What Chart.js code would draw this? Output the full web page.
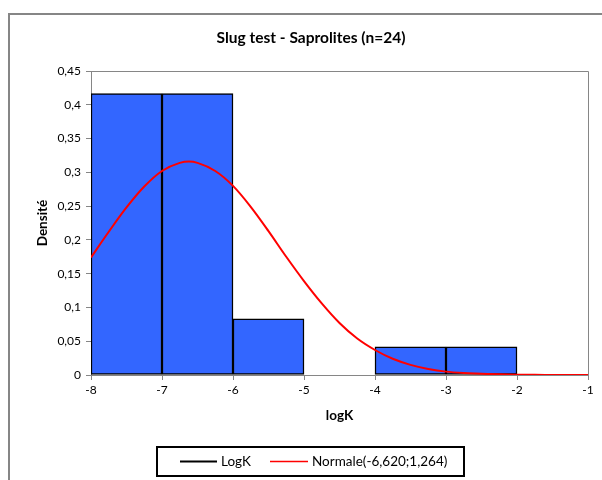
<!DOCTYPE html>
<html>
<head>
<meta charset="utf-8">
<script src="https://cdn.jsdelivr.net/npm/chart.js@4.4.0/dist/chart.umd.min.js"></script>
<style>
  html, body { margin: 0; padding: 0; background: #fff; }
  #wrap { width: 602px; height: 480px; position: relative; }
</style>
</head>
<body>
<div id="wrap"><canvas id="mycanvas"></canvas></div>
<script>
// histogram classes (centres) and densities
var binCenters = [-7.5, -6.5, -5.5, -4.5, -3.5, -2.5];
var density = [0.4167, 0.4167, 0.0833, 0, 0.0417, 0.0417];

// normal curve
var curveX = [-8, -7.75, -7.5, -7.25, -7, -6.75, -6.62, -6.5, -6.25, -6, -5.75, -5.5, -5.25, -5,
              -4.75, -4.5, -4.25, -4, -3.75, -3.5, -3.25, -3, -2.75, -2.5, -2.25, -2,
              -1.75, -1.5, -1.25, -1];
var curveY = [0.174, 0.212, 0.248, 0.279, 0.302, 0.314, 0.316, 0.314, 0.302, 0.280, 0.249, 0.213, 0.175, 0.139,
              0.106, 0.077, 0.054, 0.037, 0.024, 0.015, 0.009, 0.005, 0.003, 0.002, 0.001, 0.0004,
              0.0002, 0.0001, 0, 0];

var xTicks = [-8, -7, -6, -5, -4, -3, -2, -1];

var titleText = 'Slug test - Saprolites (n=24)';
var seriesNames = ['LogK', 'Normale(-6,620;1,264)'];

var FONT = 'Lato, "Open Sans", sans-serif';
var GREY = '#868686';

var histData = binCenters.map(function (x, i) { return { x: x, y: density[i] }; });
var curveData = curveX.map(function (x, i) { return { x: x, y: curveY[i] }; });

// frame, title, plot box and legend
var decor = {
    id: 'decor',
    beforeDraw: function (chart) {
        var ctx = chart.ctx;
        ctx.save();
        ctx.fillStyle = '#fff';
        ctx.fillRect(0, 0, chart.width, chart.height);
        ctx.strokeStyle = GREY;
        ctx.lineWidth = 2;
        ctx.strokeRect(9, 14, 700, 700);
        ctx.restore();
    },
    afterDraw: function (chart) {
        var ctx = chart.ctx;
        var a = chart.chartArea;
        ctx.save();
        // plot box
        ctx.strokeStyle = GREY;
        ctx.lineWidth = 1;
        ctx.beginPath();
        ctx.moveTo(a.left, a.top + 0.5);
        ctx.lineTo(a.right + 0.5, a.top + 0.5);
        ctx.lineTo(a.right + 0.5, a.bottom);
        ctx.stroke();

        // title
        ctx.fillStyle = '#000';
        ctx.font = 'bold 15.5px ' + FONT;
        ctx.textAlign = 'center';
        ctx.textBaseline = 'middle';
        ctx.fillText(titleText, 311, 38);

        // legend
        ctx.lineWidth = 2;
        ctx.strokeStyle = '#000';
        ctx.strokeRect(157, 447, 307, 29);
        ctx.font = '13.5px ' + FONT;
        ctx.textAlign = 'left';
        var cy = 461.5;
        ctx.beginPath();
        ctx.moveTo(180, cy); ctx.lineTo(217, cy);
        ctx.stroke();
        ctx.fillText(seriesNames[0], 221, cy);
        ctx.strokeStyle = '#ff0000';
        ctx.lineWidth = 1.5;
        ctx.beginPath();
        ctx.moveTo(270, cy); ctx.lineTo(308, cy);
        ctx.stroke();
        ctx.fillText(seriesNames[1], 312, cy);
        ctx.restore();
    }
};

var ctx_live = document.getElementById('mycanvas');

var myChart = new Chart(ctx_live, {
    type: 'bar',
    data: {
        datasets: [
            {
                type: 'line',
                label: seriesNames[1],
                data: curveData,
                borderColor: '#ff0000',
                borderWidth: 2,
                pointRadius: 0,
                cubicInterpolationMode: 'monotone',
                fill: false,
                order: 0
            },
            {
                label: seriesNames[0],
                data: histData,
                backgroundColor: '#3366ff',
                borderColor: '#000',
                borderWidth: 1.5,
                borderSkipped: false,
                barPercentage: 1,
                categoryPercentage: 1,
                order: 1
            }
        ]
    },
    options: {
        responsive: true,
        maintainAspectRatio: false,
        animation: false,
        layout: { padding: { left: 35, right: 14, top: 71, bottom: 56 } },
        plugins: {
            legend: { display: false },
            title: { display: false },
            tooltip: { enabled: false }
        },
        scales: {
            x: {
                type: 'linear',
                min: -8,
                max: -1,
                offset: false,
                afterBuildTicks: function (scale) {
                    scale.ticks = xTicks.map(function (v) { return { value: v }; });
                },
                afterFit: function (scale) { scale.height = 49; },
                grid: { display: true, drawOnChartArea: false, drawTicks: true, tickLength: 5, color: GREY, offset: false },
                border: { display: true, color: GREY, width: 1 },
                ticks: {
                    color: '#000',
                    font: { family: FONT, size: 12 },
                    padding: 3,
                    maxRotation: 0
                },
                title: {
                    display: true,
                    text: 'logK',
                    color: '#000',
                    font: { family: FONT, size: 13.5, weight: 'bold' },
                    padding: 0
                }
            },
            y: {
                min: 0,
                max: 0.45,
                afterFit: function (scale) { scale.width = 56; },
                grid: { display: true, drawOnChartArea: false, drawTicks: true, tickLength: 5, color: GREY },
                border: { display: true, color: GREY, width: 1 },
                ticks: {
                    stepSize: 0.05,
                    color: '#000',
                    font: { family: FONT, size: 12 },
                    padding: 5,
                    callback: function (v) {
                        return String(Number(v.toFixed(2))).replace('.', ',');
                    }
                },
                title: {
                    display: true,
                    text: 'Densité',
                    color: '#000',
                    font: { family: FONT, size: 13.5, weight: 'bold' },
                    padding: 0
                }
            }
        }
    },
    plugins: [decor]
});
</script>
</body>
</html>
